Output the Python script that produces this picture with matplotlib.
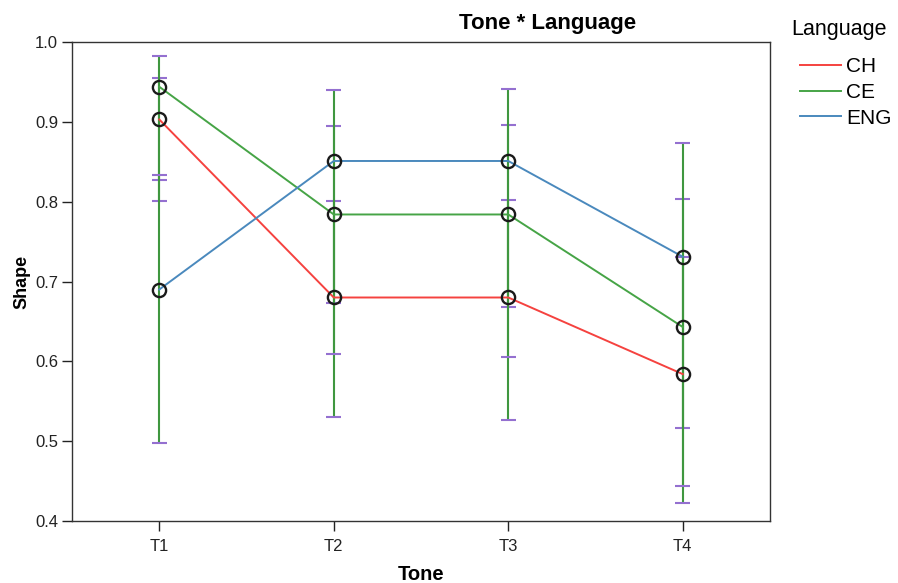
import numpy as np
import matplotlib.pyplot as plt

plt.rcParams['font.family'] = ['Liberation Sans', 'DejaVu Sans']

tones = ['T1', 'T2', 'T3', 'T4']
languages = ['CH', 'CE', 'ENG']

# means
ch_mean = [0.903, 0.680, 0.680, 0.584]
ce_mean = [0.944, 0.784, 0.784, 0.643]
eng_mean = [0.690, 0.851, 0.851, 0.731]

# error bar ends (lower, upper) per tone
ch_low = [0.801, 0.530, 0.526, 0.517]
ch_high = [0.955, 0.801, 0.802, 0.731]
ce_low = [0.827, 0.673, 0.668, 0.423]
ce_high = [0.983, 0.895, 0.896, 0.803]
eng_low = [0.498, 0.609, 0.605, 0.444]
eng_high = [0.833, 0.940, 0.941, 0.874]

colors = {'CH': '#f5423f', 'CE': '#46a446', 'ENG': '#4a89bd'}

fig = plt.figure(figsize=(8.98, 5.83), dpi=100)
ax = fig.add_axes([0.0802, 0.1063, 0.7773, 0.8216])

x = np.arange(len(tones))
series = [('CH', ch_mean, ch_low, ch_high),
          ('CE', ce_mean, ce_low, ce_high),
          ('ENG', eng_mean, eng_low, eng_high)]

# error bars: green stems, purple caps
cw = 0.042
for name, m, lo, hi in series:
    ax.vlines(x, lo, hi, color='#3f973f', lw=1.5, zorder=2)
    ax.hlines(lo, x - cw, x + cw, color='#9470d0', lw=1.5, zorder=2)
    ax.hlines(hi, x - cw, x + cw, color='#9470d0', lw=1.5, zorder=2)

for name, m, lo, hi in series:
    ax.plot(x, m, color=colors[name], lw=1.4, label=name, zorder=3)
    ax.plot(x, m, ls='none', marker='o', ms=9.5, mfc='none', mec='#1a1a1a',
            mew=1.7, zorder=4)

ax.set_xlim(-0.5, 3.5)
ax.set_ylim(0.4, 1.0)
ax.set_xticks(x)
ax.set_xticklabels(tones, fontsize=12)
ax.set_yticks(np.arange(0.4, 1.01, 0.1))
ax.set_yticklabels(['%.1f' % v for v in np.arange(0.4, 1.01, 0.1)], fontsize=12)
ax.tick_params(direction='out', length=7, width=1, colors='#222222', pad=3)
ax.tick_params(axis='x', pad=6)
for s in ax.spines.values():
    s.set_color('#333333')
    s.set_linewidth(1)

ax.set_xlabel('Tone', fontsize=14.5, fontweight='bold', labelpad=8)
ax.set_ylabel('Shape', fontsize=13, fontweight='bold', labelpad=3)

fig.text(548 / 898, 1 - 23 / 583, 'Tone * Language', ha='center', va='center',
         fontsize=16, fontweight='bold')

fig.text(791 / 898, 1 - 29 / 583, 'Language', ha='left', va='center', fontsize=15.5)
leg = ax.legend(loc='upper left', bbox_to_anchor=(800 / 898, 1 - 57 / 583),
                bbox_transform=fig.transFigure, frameon=False, fontsize=15,
                handlelength=1.95, handletextpad=0.25, labelspacing=0.33,
                borderaxespad=0, borderpad=0)

fig.savefig('out.png', dpi=100)
